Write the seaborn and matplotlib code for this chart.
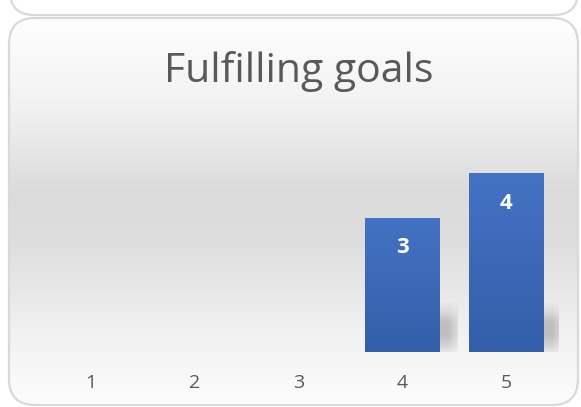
import numpy as np
import pandas as pd
import matplotlib
matplotlib.use("Agg")
import matplotlib.pyplot as plt
from matplotlib.patches import FancyBboxPatch
from matplotlib.colors import LinearSegmentedColormap
import seaborn as sns

categories = ["1", "2", "3", "4", "5"]
values = [0, 0, 0, 3, 4]
title = "Fulfilling goals"

sns.set_theme(style="white")
plt.rcParams['font.family'] = ['Open Sans', 'DejaVu Sans']

W, H = 581, 407
fig = plt.figure(figsize=(W / 100, H / 100), dpi=100)
fig.patch.set_facecolor("white")

# background layer in pixel coords
bg = fig.add_axes([0, 0, 1, 1])
bg.set_xlim(0, W)
bg.set_ylim(H, 0)
bg.axis("off")

# previous panel (bottom edge only visible)
prev = FancyBboxPatch((10, -60), 568, 75, boxstyle="round,pad=0,rounding_size=24",
                      facecolor="white", edgecolor="#d9d9d9", linewidth=1.6)
bg.add_patch(prev)

# main panel with vertical gradient
px0, py0, pw, ph = 9, 18, 569, 387
panel = FancyBboxPatch((px0, py0), pw, ph, boxstyle="round,pad=0,rounding_size=26",
                       facecolor="none", edgecolor="#d9d9d9", linewidth=1.6, zorder=3)
bg.add_patch(panel)
ys = np.linspace(0, 1, 400)
stops = [(0.0, 0.997), (0.2, 0.955), (0.45, 0.86), (0.58, 0.87), (0.8, 0.94), (0.95, 0.98), (1.0, 0.99)]
sy = [s[0] for s in stops]
sv = [s[1] for s in stops]
grad = np.interp(ys, sy, sv)
img = np.repeat(grad[:, None], 2, axis=1)
im = bg.imshow(np.dstack([img, img, img]), extent=(px0, px0 + pw, py0 + ph, py0),
               aspect="auto", zorder=1, interpolation="bilinear")
clip = FancyBboxPatch((px0, py0), pw, ph, boxstyle="round,pad=0,rounding_size=26",
                      transform=bg.transData, facecolor="none", edgecolor="none")
bg.add_patch(clip)
im.set_clip_path(clip)

bg.text(299, 71, title, ha="center", va="center", fontsize=29.5, color="#595959",
        fontweight="normal")

# chart axes
x_left, x_right = 38.5, 558.5
y_base, y_top = 352, 128.5
ax = fig.add_axes([x_left / W, (H - y_base) / H, (x_right - x_left) / W, (y_base - y_top) / H])
ax.patch.set_alpha(0)

df = pd.DataFrame({"category": categories, "value": values})
sns.barplot(data=df, x="category", y="value", ax=ax, color="#4472c4", width=0.72,
            saturation=1, zorder=3)
ax.set_xlim(-0.5, 4.5)
ax.set_ylim(0, 5)

bar_cmap = LinearSegmentedColormap.from_list("b", ["#335ea8", "#4472c4"])
for i, p in enumerate(list(ax.patches)):
    v = values[i]
    if v <= 0:
        p.set_visible(False)
        continue
    x0 = p.get_x()
    w = p.get_width()
    # soft shadow at the bar's lower right
    sx0, sx1 = x0 + w - 0.05, x0 + w + 0.17
    sh_h = 1.13
    nx, ny = 60, 80
    gx = np.linspace(0, 1, nx)
    gy = np.linspace(0, 1, ny)
    fx = np.clip(1 - np.maximum(gx - 0.6, 0) / 0.4 * 0.6, 0, 1)
    fy = np.interp(gy, [0.0, 0.1, 0.35, 0.6, 0.8, 1.0], [0.25, 0.55, 1.0, 0.9, 0.35, 0.0])
    alpha = 0.34 * np.outer(fy, fx)
    rgba = np.zeros((ny, nx, 4))
    rgba[..., :3] = 0.35
    rgba[..., 3] = alpha
    ax.imshow(rgba, extent=(sx0, sx1, 0.0, sh_h), origin="lower", aspect="auto",
              zorder=2, interpolation="bilinear")
    p.set_facecolor("none")
    p.set_edgecolor("none")
    gimg = np.linspace(0, 1, 256)[:, None]
    gi = ax.imshow(gimg, extent=(x0, x0 + w, 0, v), origin="lower", aspect="auto",
                   cmap=bar_cmap, zorder=3, interpolation="bilinear")
    gi.set_clip_path(p)
    ax.text(x0 + w / 2, v - 0.67, str(v), ha="center", va="center", color="white",
            fontsize=16, fontweight="bold", zorder=5)

ax.set_xlim(-0.5, 4.5)
ax.set_ylim(0, 5)
ax.set_xlabel("")
ax.set_ylabel("")
ax.set_yticks([])
ax.tick_params(axis="x", length=0, pad=16, labelsize=14, labelcolor="#595959")
for s in ax.spines.values():
    s.set_visible(False)

fig.savefig("out.png", dpi=100)
